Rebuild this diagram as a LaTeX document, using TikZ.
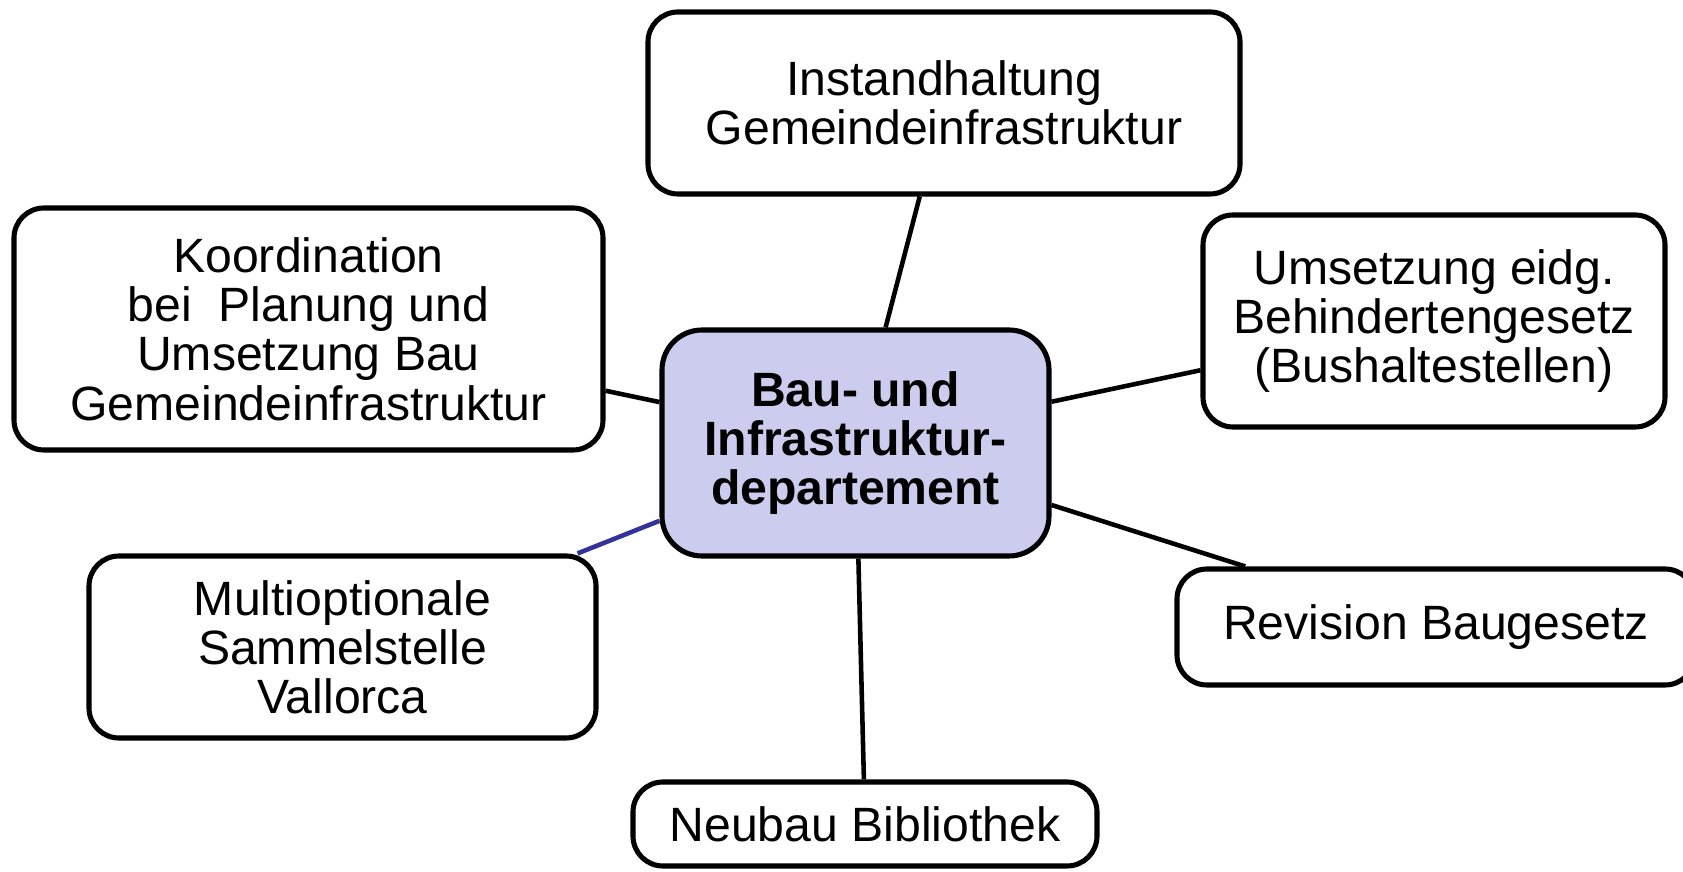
\documentclass[tikz,border=0pt]{standalone}
\usepackage{fontspec}
\setmainfont{Liberation Sans}
\definecolor{deptfill}{RGB}{204,204,238}
\definecolor{deptblue}{RGB}{51,51,153}

\begin{document}
\begin{tikzpicture}[
    box/.style={draw, line width=2.9pt, rounded corners=0.6cm, align=center,
        inner sep=0pt, font=\fontsize{27.4}{28}\selectfont},
    link/.style={line width=2.6pt}]
    %\draw[very thin,color=gray] (0,0) grid (33.66,17.44);
    \useasboundingbox (0,0) rectangle (33.66,17.44);

    \node[box, fill=deptfill, rounded corners=0.8cm, minimum width=7.74cm, minimum height=4.52cm]
        (dept) at (17.11,8.58) {\bfseries Bau- und\\\bfseries Infrastruktur-\\\bfseries departement};
    \node[box, minimum width=11.84cm, minimum height=3.64cm]
        (inst) at (18.88,15.38) {Instandhaltung\\Gemeindeinfrastruktur};
    \node[box, minimum width=11.78cm, minimum height=4.84cm]
        (koord) at (6.17,10.86) {Koordination\\bei\ \ Planung und\\Umsetzung Bau\\Gemeindeinfrastruktur};
    \node[box, minimum width=9.24cm, minimum height=4.24cm]
        (behg) at (28.68,11.02) {Umsetzung eidg.\\Behindertengesetz\\(Bushaltestellen)};
    \node[box, minimum width=10.14cm, minimum height=3.64cm]
        (multi) at (6.85,4.5) {Multioptionale\\Sammelstelle\\Vallorca};
    \node[box, minimum width=10.36cm, minimum height=2.32cm]
        (rev) at (28.72,4.9) {Revision Baugesetz};
    \node[box, minimum width=9.28cm, minimum height=1.68cm]
        (bib) at (17.3,0.96) {Neubau Bibliothek};

    \draw[link] (dept) -- (inst);
    \draw[link] (dept) -- (koord);
    \draw[link] (dept) -- (behg);
    \draw[link, deptblue] (dept) -- (multi);
    \draw[link] (dept) -- (rev);
    \draw[link] (dept) -- (bib);

\end{tikzpicture}
\end{document}
